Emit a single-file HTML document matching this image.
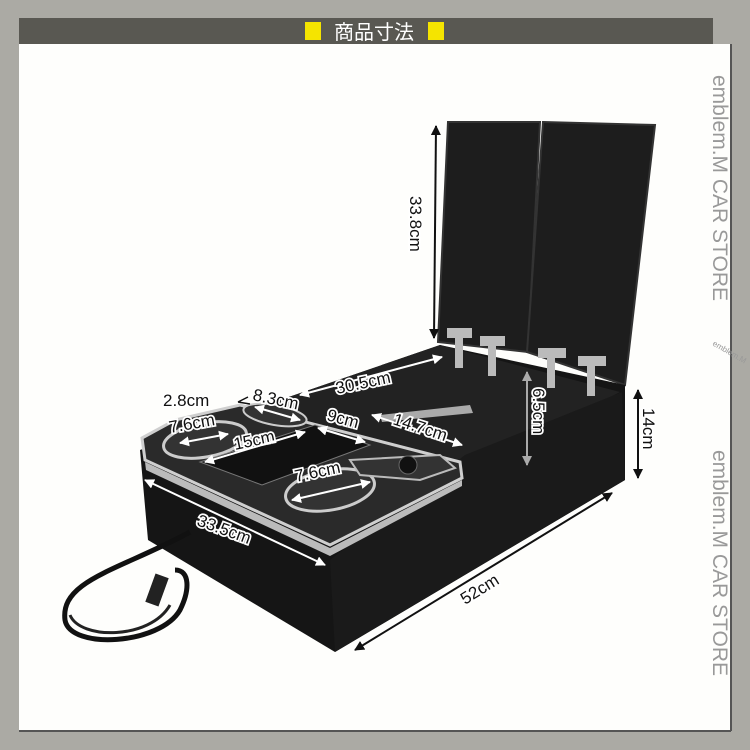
<!DOCTYPE html>
<html><head><meta charset="utf-8"><style>
html,body{margin:0;padding:0;width:750px;height:750px;overflow:hidden;background:#abaaa4;}
svg{display:block}
text{font-family:"Liberation Sans","Noto Sans CJK JP",sans-serif;}
.lb{font-size:17px;fill:#111;stroke:#fff;stroke-width:3.5px;paint-order:stroke;}
</style></head><body>
<svg width="750" height="750" viewBox="0 0 750 750" xmlns="http://www.w3.org/2000/svg">
<defs>
<marker id="a" viewBox="0 0 10 10" refX="9" refY="5" markerWidth="5" markerHeight="5" orient="auto-start-reverse"><path d="M0,0L10,5L0,10z" fill="#111"/></marker>
<marker id="w" viewBox="0 0 10 10" refX="9" refY="5" markerWidth="5" markerHeight="5" orient="auto-start-reverse"><path d="M0,0L10,5L0,10z" fill="#fff"/></marker>
<marker id="g" viewBox="0 0 10 10" refX="9" refY="5" markerWidth="5" markerHeight="5" orient="auto-start-reverse"><path d="M0,0L10,5L0,10z" fill="#aaa"/></marker>
</defs>
<rect x="19" y="44" width="712" height="687" fill="#fefefc"/>
<line x1="731" y1="44" x2="731" y2="731" stroke="#555" stroke-width="2"/>
<line x1="19" y1="731" x2="731" y2="731" stroke="#555" stroke-width="2"/>
<rect x="19" y="18" width="694" height="26" fill="#595852"/>
<rect x="305" y="22" width="16" height="18" fill="#f5e400"/>
<rect x="428" y="22" width="16" height="18" fill="#f5e400"/>
<text x="374" y="39" font-size="20" fill="#fff" text-anchor="middle">商品寸法</text>
<text transform="translate(713,75) rotate(90)" font-size="21" fill="#999">emblem.M CAR STORE</text>
<text transform="translate(713,450) rotate(90)" font-size="21" fill="#999">emblem.M CAR STORE</text>
<text transform="translate(712,345) rotate(30)" font-size="8" fill="#999">emblem.M</text>

<!-- lids -->
<polygon points="448,122 540,122 528,352 438,342" fill="#1d1d1d" stroke="#333" stroke-width="2"/>
<polygon points="543,122 655,125 625,385 527,352" fill="#1d1d1d" stroke="#333" stroke-width="2"/>
<!-- box body -->
<polygon points="280,400 440,345 625,385 625,480 335,652 148,540 140,450" fill="#151515"/>
<polygon points="280,400 440,345 620,392 470,470 300,418" fill="#222"/>
<polygon points="465,455 622,392 625,480 335,652 330,560" fill="#1a1a1a"/>
<!-- hinges -->
<g fill="#bbb"><rect x="447" y="328" width="25" height="10"/><rect x="480" y="336" width="25" height="10"/><rect x="538" y="348" width="28" height="10"/><rect x="578" y="356" width="28" height="10"/>
<rect x="455" y="338" width="8" height="30"/><rect x="488" y="346" width="8" height="30"/><rect x="547" y="358" width="8" height="30"/><rect x="587" y="366" width="8" height="30"/></g>
<polygon points="380,415 470,405 473,413 382,422" fill="#aaa"/>
<!-- plate -->
<polygon points="142,438 175,420 240,405 460,462 462,478 330,545 145,460" fill="#2a2a2a" stroke="#cfcfcf" stroke-width="3"/>
<polygon points="145,462 330,548 462,480 462,486 330,556 146,470" fill="#bbb"/>
<ellipse cx="205" cy="440" rx="42" ry="17" fill="#333" stroke="#ccc" stroke-width="3" transform="rotate(-10 205 440)"/>
<ellipse cx="330" cy="490" rx="45" ry="20" fill="#333" stroke="#ccc" stroke-width="3" transform="rotate(-10 330 490)"/>
<ellipse cx="275" cy="415" rx="32" ry="10" fill="#333" stroke="#ccc" stroke-width="2" transform="rotate(10 275 415)"/>
<polygon points="200,462 315,425 370,445 262,485" fill="#111" stroke="#777"/>
<polygon points="350,460 440,455 455,468 420,480 360,475" fill="#333" stroke="#bbb" stroke-width="2"/>
<circle cx="408" cy="465" r="9" fill="#111" stroke="#666"/>
<!-- cable -->
<path d="M190,532 C120,570 60,580 65,620 C70,650 160,645 180,610 C190,590 190,570 175,570" fill="none" stroke="#111" stroke-width="5"/>
<path d="M70,615 C80,640 150,640 170,605" fill="none" stroke="#222" stroke-width="3"/>
<rect x="150" y="575" width="14" height="30" fill="#222" transform="rotate(20 157 590)"/>

<!-- dimension lines -->
<line x1="436" y1="126" x2="434" y2="338" stroke="#111" stroke-width="2" marker-start="url(#a)" marker-end="url(#a)"/>
<text class="lb" transform="translate(410,196) rotate(90)">33.8cm</text>
<line x1="638" y1="390" x2="638" y2="478" stroke="#111" stroke-width="2" marker-start="url(#a)" marker-end="url(#a)"/>
<text class="lb" transform="translate(643,408) rotate(90)">14cm</text>
<line x1="527" y1="372" x2="527" y2="465" stroke="#aaa" stroke-width="2" marker-start="url(#g)" marker-end="url(#g)"/>
<text class="lb" transform="translate(533,388) rotate(90)">6.5cm</text>
<line x1="300" y1="395" x2="442" y2="357" stroke="#fff" stroke-width="2" marker-start="url(#w)" marker-end="url(#w)"/>
<text class="lb" transform="translate(337,394) rotate(-12)">30.5cm</text>
<line x1="372" y1="415" x2="462" y2="445" stroke="#fff" stroke-width="2" marker-start="url(#w)" marker-end="url(#w)"/>
<text class="lb" transform="translate(392,424) rotate(18)">14.7cm</text>
<line x1="145" y1="480" x2="325" y2="565" stroke="#fff" stroke-width="2" marker-start="url(#w)" marker-end="url(#w)"/>
<text class="lb" transform="translate(196,525) rotate(20)">33.5cm</text>
<line x1="355" y1="650" x2="612" y2="493" stroke="#111" stroke-width="2" marker-start="url(#a)" marker-end="url(#a)"/>
<text class="lb" transform="translate(465,605) rotate(-32)">52cm</text>
<text class="lb" x="163" y="406">2.8cm</text>
<path d="M238,402 L248,397 M238,402 L250,404" stroke="#111" stroke-width="1.5" fill="none"/>
<text class="lb" transform="translate(252,400) rotate(12)">8.3cm</text>
<text class="lb" transform="translate(170,433) rotate(-10)">7.6cm</text>
<line x1="180" y1="443" x2="228" y2="434" stroke="#fff" stroke-width="2" marker-start="url(#w)" marker-end="url(#w)"/>
<line x1="255" y1="407" x2="300" y2="420" stroke="#fff" stroke-width="2" marker-start="url(#w)" marker-end="url(#w)"/>
<text class="lb" transform="translate(235,450) rotate(-12)">15cm</text>
<line x1="205" y1="462" x2="305" y2="432" stroke="#fff" stroke-width="2" marker-start="url(#w)" marker-end="url(#w)"/>
<text class="lb" transform="translate(326,420) rotate(15)">9cm</text>
<line x1="318" y1="428" x2="365" y2="442" stroke="#fff" stroke-width="2" marker-start="url(#w)" marker-end="url(#w)"/>
<text class="lb" transform="translate(296,482) rotate(-12)">7.6cm</text>
<line x1="292" y1="500" x2="370" y2="482" stroke="#fff" stroke-width="2" marker-start="url(#w)" marker-end="url(#w)"/>
</svg>
</body></html>
